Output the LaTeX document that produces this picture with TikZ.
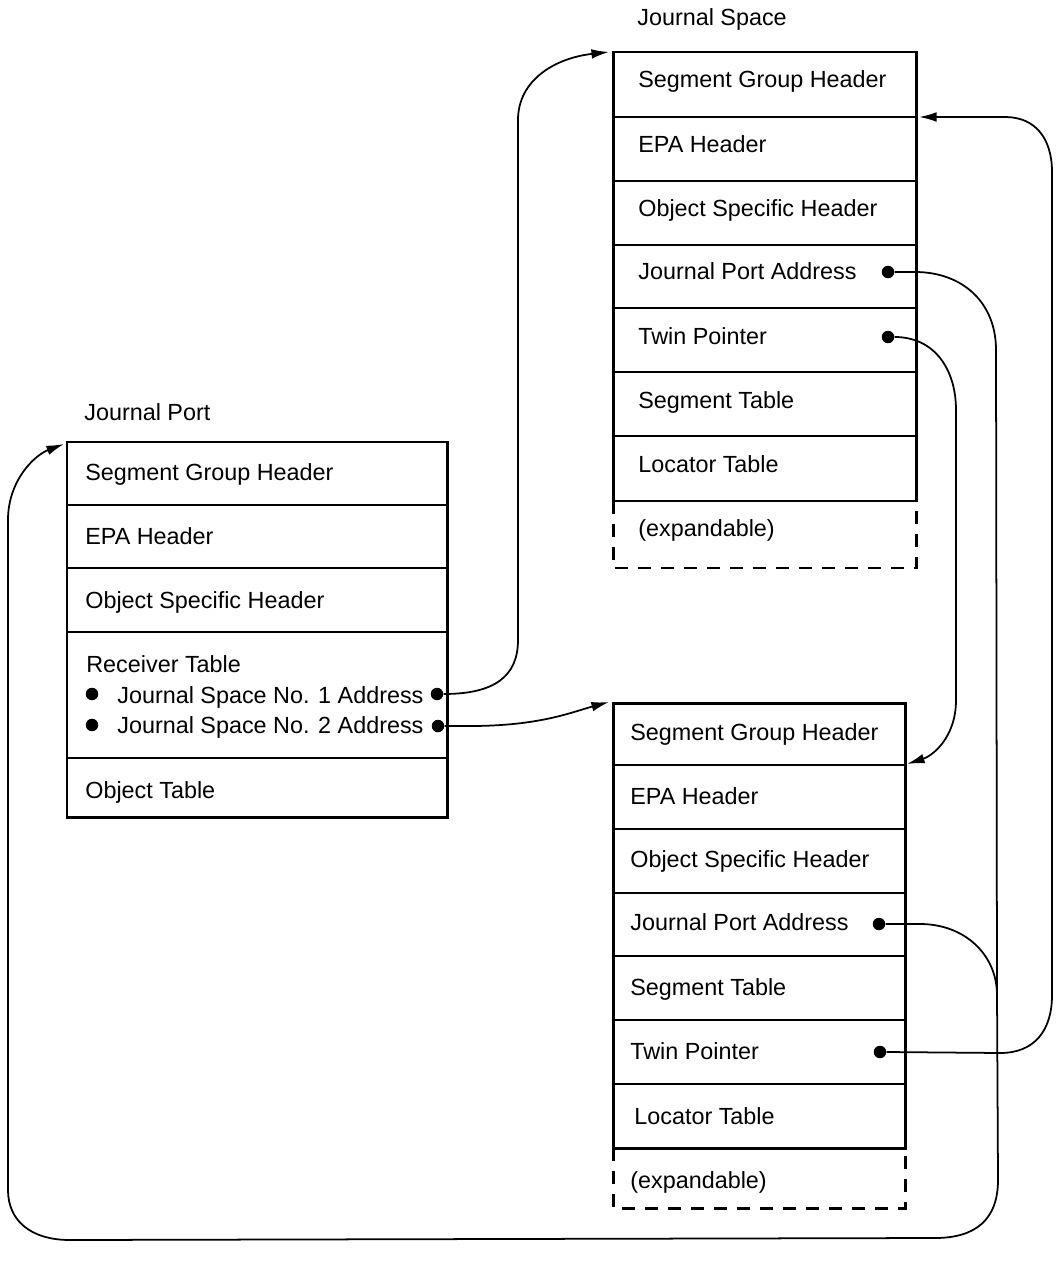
\documentclass[tikz,border=0pt]{standalone}
\usepackage{fontspec}
\setmainfont{Liberation Sans}
\usetikzlibrary{arrows.meta}
\begin{document}
\begin{tikzpicture}[x=0.02cm,y=-0.02cm,
  frame/.style={line width=1.7pt},
  divider/.style={line width=1.2pt},
  link/.style={line width=1pt},
  tip/.style={-{Latex[length=10pt,width=5.5pt]}},
  cell/.style={anchor=base west, inner sep=0pt, font=\fontsize{13.3}{16}\selectfont},
  dot/.style={circle, fill, inner sep=0pt, minimum size=0.25cm},
  expand/.style={line width=1.7pt, dash pattern=on 0.26cm off 0.2cm}]
\useasboundingbox (0,0) rectangle (1055,1270);

% ---------------- Journal Port ----------------
\node[cell] (tJP) at (84,420) {Journal Port};
\draw[frame] (67,442) rectangle (447,817);
\foreach \y in {505,568,632,758} \draw[divider] (67,\y) -- (447,\y);
\node[cell] (p1) at (85,480) {Segment Group Header};
\node[cell] (p2) at (85,544) {EPA Header};
\node[cell] (p3) at (85,608) {Object Specific Header};
\node[cell] (p4) at (86,672) {Receiver Table};
\node[dot] (pb1) at (92,694) {};
\node[dot] (pb2) at (92,725) {};
\node[cell] (p5) at (117,703) {Journal Space No. 1 Address};
\node[cell] (p6) at (117,733) {Journal Space No. 2 Address};
\node[cell] (p7) at (85,798) {Object Table};
\node[dot] (jp1) at (437,694) {};
\node[dot] (jp2) at (438,726) {};
\coordinate (jpIn) at (64,444);

% ---------------- Journal Space (upper) ----------------
\node[cell] (tJS) at (637,26) {Journal Space};
\draw[frame] (613,52) rectangle (916,501);
\foreach \y in {117,181,245,308,372,436} \draw[divider] (613,\y) -- (916,\y);
\draw[expand] (613,501) -- (613,568) -- (916,568) -- (916,501);
\node[cell] (a1) at (638,88) {Segment Group Header};
\node[cell] (a2) at (638,153) {EPA Header};
\node[cell] (a3) at (638,217) {Object Specific Header};
\node[cell] (a4) at (638,280) {Journal Port Address};
\node[cell] (a5) at (638,344) {Twin Pointer};
\node[cell] (a6) at (638,408) {Segment Table};
\node[cell] (a7) at (638,472) {Locator Table};
\node[cell] (a8) at (638,536) {(expandable)};
\node[dot] (aJPA) at (888,272) {};
\node[dot] (aTP) at (888,337) {};
\coordinate (aIn1) at (609,52);
\coordinate (aIn2) at (919,117);

% ---------------- Journal Space (lower) ----------------
\draw[frame] (613,703) rectangle (905,1148);
\foreach \y in {765,829,893,956,1020,1084} \draw[divider] (613,\y) -- (905,\y);
\draw[expand] (613,1148) -- (613,1208) -- (905,1208) -- (905,1148);
\node[cell] (b1) at (630,740) {Segment Group Header};
\node[cell] (b2) at (630,804) {EPA Header};
\node[cell] (b3) at (630,867) {Object Specific Header};
\node[cell] (b4) at (630,930) {Journal Port Address};
\node[cell] (b5) at (630,995) {Segment Table};
\node[cell] (b6) at (630,1059) {Twin Pointer};
\node[cell] (b7) at (634,1124) {Locator Table};
\node[cell] (b8) at (630,1188) {(expandable)};
\node[dot] (bJPA) at (879,924) {};
\node[dot] (bTP) at (880,1052) {};
\coordinate (bIn1) at (609,702);
\coordinate (bIn2) at (907,764);
\coordinate (merge) at (997,995);

% ---------------- connectors ----------------
% receiver table entry 1 -> upper journal space
\draw[link,tip] (jp1.east) .. controls (495,694) and (518,676) .. (518,640)
  -- (518,120) .. controls (518,80) and (555,58) .. (aIn1);
% receiver table entry 2 -> lower journal space
\draw[link,tip] (jp2.east) -- (470,726) .. controls (540,726) and (572,712) .. (bIn1);
% upper twin pointer -> lower journal space
\draw[link,tip] (aTP.east) .. controls (935,337) and (956,370) .. (956,410)
  -- (956,700) .. controls (956,738) and (932,756) .. (bIn2);
% lower twin pointer -> upper journal space
\draw[link,tip] (bTP.east) -- (1000,1053) .. controls (1035,1053) and (1052,1030) .. (1052,995)
  -- (1052,172) .. controls (1052,138) and (1035,117) .. (1005,117) -- (aIn2);
% journal port addresses -> journal port
\draw[link,tip] (aJPA.east) -- (915,272) .. controls (962,272) and (996,302) .. (996,350)
  -- (merge) -- (998,1180) .. controls (998,1220) and (975,1238) .. (935,1238)
  -- (70,1240) .. controls (30,1240) and (8,1220) .. (8,1190)
  -- (8,520) .. controls (8,480) and (35,455) .. (jpIn);
\draw[link] (bJPA.east) -- (920,924) .. controls (965,924) and (997,955) .. (merge);
\end{tikzpicture}
\end{document}
